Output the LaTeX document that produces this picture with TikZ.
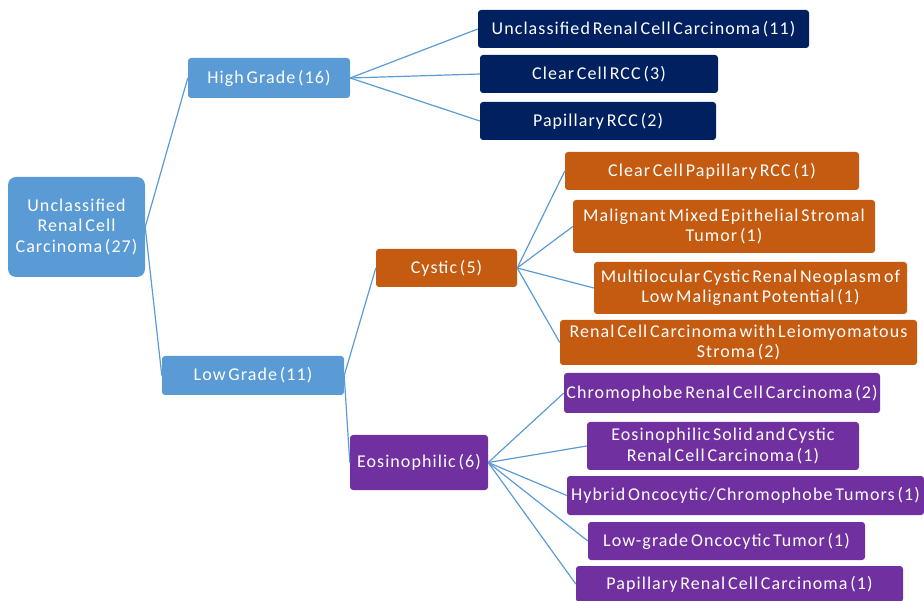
\documentclass[tikz,border=0pt]{standalone}
\usepackage{fontspec}
\setmainfont{Carlito}[LetterSpace=6,WordSpace=0.55]
\begin{document}
\begin{tikzpicture}[x=1pt,y=-1pt,
  box/.style={rectangle, rounded corners=3pt, inner sep=0pt, align=center, text=white, font=\fontsize{18}{20.5}\selectfont},
  lblue/.style={box, fill=lb},
  navy/.style={box, fill=nv},
  orng/.style={box, fill=og},
  purp/.style={box, fill=pp},
  link/.style={draw=lk, line width=1.2pt}]
\definecolor{lb}{HTML}{5B9BD5}
\definecolor{nv}{HTML}{002060}
\definecolor{og}{HTML}{C55A11}
\definecolor{pp}{HTML}{7030A0}
\definecolor{lk}{HTML}{5B9BD5}
\useasboundingbox (0,0) rectangle (924,601);
\node[lblue, rounded corners=8pt, minimum width=137, minimum height=100] (root) at (76.5,227) {Unclassified\\Renal Cell\\Carcinoma (27)};
\node[lblue, minimum width=162, minimum height=40] (high) at (269,78) {High Grade (16)};
\node[lblue, minimum width=182, minimum height=39] (low) at (253,375.5) {Low Grade (11)};
\node[navy, minimum width=331, minimum height=38] (u11) at (643.5,29) {Unclassified Renal Cell Carcinoma (11)};
\node[navy, minimum width=238, minimum height=38] (cc3) at (599,74) {Clear Cell RCC (3)};
\node[navy, minimum width=236, minimum height=38] (pap2) at (598,121) {Papillary RCC (2)};
\node[orng, minimum width=141, minimum height=38] (cys) at (446.5,268) {Cystic (5)};
\node[orng, minimum width=294, minimum height=38] (ccp) at (712,171) {Clear Cell Papillary RCC (1)};
\node[orng, minimum width=302, minimum height=53] (mme) at (724,226.5) {Malignant Mixed Epithelial Stromal\\Tumor (1)};
\node[orng, minimum width=313, minimum height=52] (mcr) at (750.5,288) {Multilocular Cystic Renal Neoplasm of\\Low Malignant Potential (1)};
\node[orng, minimum width=357, minimum height=45] (rcl) at (738.5,342.5) {Renal Cell Carcinoma with Leiomyomatous\\Stroma (2)};
\node[purp, minimum width=138, minimum height=55] (eos) at (419,462.5) {Eosinophilic (6)};
\node[purp, minimum width=316, minimum height=40] (chr) at (722,393) {Chromophobe Renal Cell Carcinoma (2)};
\node[purp, minimum width=272, minimum height=48] (ess) at (723,446) {Eosinophilic Solid and Cystic\\Renal Cell Carcinoma (1)};
\node[purp, minimum width=357, minimum height=39] (hyb) at (745.5,495.5) {Hybrid Oncocytic/Chromophobe Tumors (1)};
\node[purp, minimum width=277, minimum height=38] (lgo) at (726.5,541) {Low-grade Oncocytic Tumor (1)};
\node[purp, minimum width=327, minimum height=36] (prc) at (739.5,584) {Papillary Renal Cell Carcinoma (1)};
\foreach \c in {high,low} \draw[link] (root.east) -- (\c.west);
\foreach \c in {u11,cc3,pap2} \draw[link] (high.east) -- (\c.west);
\foreach \c in {cys,eos} \draw[link] (low.east) -- (\c.west);
\foreach \c in {ccp,mme,mcr,rcl} \draw[link] (cys.east) -- (\c.west);
\foreach \c in {chr,ess,hyb,lgo,prc} \draw[link] (eos.east) -- (\c.west);
\end{tikzpicture}
\end{document}
